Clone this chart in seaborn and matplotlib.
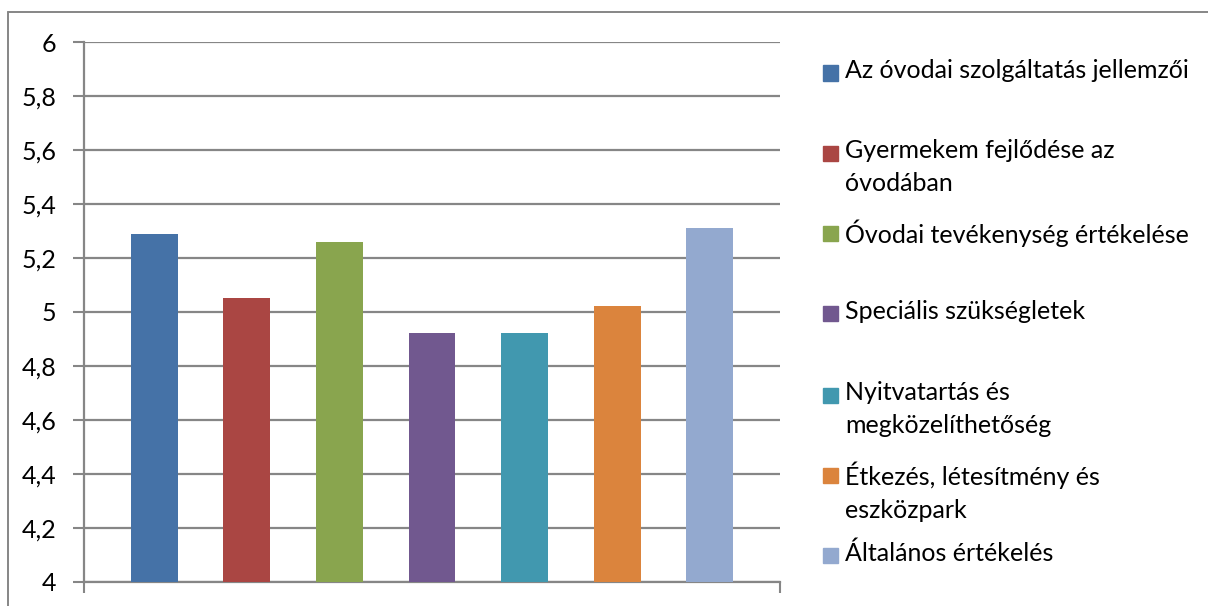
import matplotlib
matplotlib.use('Agg')
import matplotlib.pyplot as plt
import matplotlib.patches as mpatches
import matplotlib.lines as mlines
from matplotlib.ticker import FixedLocator
import seaborn as sns
import pandas as pd

# --- data ---
categories = [
    "Az óvodai szolgáltatás jellemzői",
    "Gyermekem fejlődése az óvodában",
    "Óvodai tevékenység értékelése",
    "Speciális szükségletek",
    "Nyitvatartás és megközelíthetőség",
    "Étkezés, létesítmény és eszközpark",
    "Általános értékelés",
]
legend_labels = [
    "Az óvodai szolgáltatás jellemzői",
    "Gyermekem fejlődése az\nóvodában",
    "Óvodai tevékenység értékelése",
    "Speciális szükségletek",
    "Nyitvatartás és\nmegközelíthetőség",
    "Étkezés, létesítmény és\neszközpark",
    "Általános értékelés",
]
values = [5.29, 5.05, 5.26, 4.92, 4.92, 5.02, 5.31]
colors = ["#4572A7", "#AA4643", "#89A54E", "#71588F", "#4198AF", "#DB843D", "#93A9CF"]
y_ticks = [4, 4.2, 4.4, 4.6, 4.8, 5, 5.2, 5.4, 5.6, 5.8, 6]

df = pd.DataFrame({"kategoria": categories, "ertek": values})

sns.set_theme(style="white")
plt.rcParams['font.family'] = ['Lato', 'DejaVu Sans']

W, H = 1208, 606
fig = plt.figure(figsize=(W / 100, H / 100), dpi=100)
ax = fig.add_axes([84 / W, 1 - 581.7 / H, 696 / W, (581.7 - 42) / H])

grid_c = "#868686"
sns.barplot(data=df, x="kategoria", y="ertek", hue="kategoria",
            palette=colors, order=categories, hue_order=categories,
            width=0.508, dodge=False, legend=False, ax=ax, zorder=3,
            saturation=1)
for p in ax.patches:
    p.set_edgecolor("none")

ax.set_ylim(4, 6)
ax.set_xlim(-0.762, len(categories) - 1 + 0.762)
ax.yaxis.set_major_locator(FixedLocator(y_ticks))
ax.set_yticklabels([f"{t:g}".replace(".", ",") for t in y_ticks], fontsize=18, color="black")
ax.yaxis.grid(True, color=grid_c, linewidth=1.6, zorder=0)
ax.set_axisbelow(True)
ax.set_xticks([-0.762, len(categories) - 1 + 0.762])
ax.set_xticklabels(["", ""])
ax.tick_params(axis="x", bottom=True, length=8, width=1.5, color=grid_c, direction="out")
ax.tick_params(axis="y", left=True, length=8, width=1.5, color=grid_c, direction="out", pad=12)
ax.set_xlabel("")
ax.set_ylabel("")
for side in ["top", "right"]:
    ax.spines[side].set_visible(False)
for side in ["left", "bottom"]:
    ax.spines[side].set_color(grid_c)
    ax.spines[side].set_linewidth(1.6)

# outer chart frame
fig.add_artist(mlines.Line2D([8 / W, 1], [1 - 12 / H, 1 - 12 / H], color=grid_c, lw=1.4))
fig.add_artist(mlines.Line2D([8 / W, 8 / W], [0, 1 - 12 / H], color=grid_c, lw=1.4))

# legend, marker aligned to the first text line
legend_y = [73, 153, 233, 313, 395, 475, 555]
for lab, col, yy in zip(legend_labels, colors, legend_y):
    fig.add_artist(mpatches.Rectangle((823 / W, 1 - (yy + 7.5) / H), 15 / W, 15 / H,
                                      transform=fig.transFigure, color=col))
    fig.text(845 / W, 1 - (yy - 13.5) / H, lab, fontsize=18, va="top", ha="left",
             color="black", linespacing=1.5)

fig.savefig("out.png", dpi=100)
